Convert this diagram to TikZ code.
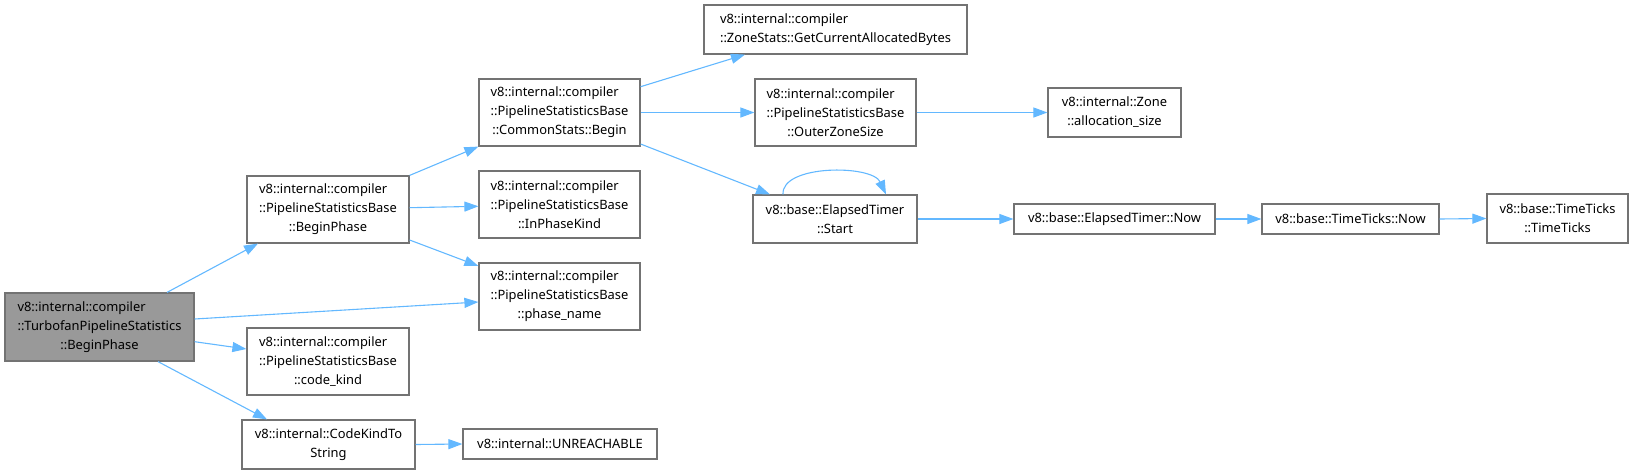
\documentclass[tikz,border=0pt]{standalone}
\usepackage{fontspec}
\setmainfont{Noto Sans}
\usetikzlibrary{arrows.meta}
\definecolor{edgeblue}{HTML}{63B8FF}
\definecolor{boxborder}{HTML}{737373}
\definecolor{mainfill}{HTML}{999999}
\newcommand{\lline}[2]{\makebox[0pt][l]{#1}\phantom{#2}}
\tikzset{
  fnbox/.style={draw=boxborder, line width=1.2pt, fill=white, inner sep=0pt,
    align=center, text=black, font=\fontsize{12.9}{19}\selectfont},
  callarrow/.style={draw=edgeblue, line width=1.1pt,
    -{Triangle[length=14pt,width=10pt,fill=edgeblue]}},
}
\begin{document}
\begin{tikzpicture}[x=1pt,y=-1pt]
\useasboundingbox (0,0) rectangle (1633,474);
% nodes
\node[fnbox, fill=mainfill, minimum width=189pt, minimum height=68pt] (main) at (99.5,327)
  {\lline{v8::internal::compiler}{::TurbofanPipelineStatistics}\\::TurbofanPipelineStatistics\\::BeginPhase};
\node[fnbox, minimum width=162pt, minimum height=67pt] (bp) at (328,209.5)
  {\lline{v8::internal::compiler}{::PipelineStatisticsBase}\\::PipelineStatisticsBase\\::BeginPhase};
\node[fnbox, minimum width=162pt, minimum height=67pt] (ck) at (328,361.5)
  {\lline{v8::internal::compiler}{::PipelineStatisticsBase}\\::PipelineStatisticsBase\\::code\_kind};
\node[fnbox, minimum width=173pt, minimum height=49pt] (cks) at (328.5,444.5)
  {v8::internal::CodeKindTo\\String};
\node[fnbox, minimum width=263pt, minimum height=49pt] (gcab) at (835.5,29.5)
  {\lline{v8::internal::compiler}{::ZoneStats::GetCurrentAllocatedBytes}\\::ZoneStats::GetCurrentAllocatedBytes};
\node[fnbox, minimum width=161pt, minimum height=67pt] (csb) at (559.5,112.5)
  {\lline{v8::internal::compiler}{::PipelineStatisticsBase}\\::PipelineStatisticsBase\\::CommonStats::Begin};
\node[fnbox, minimum width=161pt, minimum height=67pt] (ipk) at (559.5,204.5)
  {\lline{v8::internal::compiler}{::PipelineStatisticsBase}\\::PipelineStatisticsBase\\::InPhaseKind};
\node[fnbox, minimum width=161pt, minimum height=67pt] (pn) at (559.5,296.5)
  {\lline{v8::internal::compiler}{::PipelineStatisticsBase}\\::PipelineStatisticsBase\\::phase\_name};
\node[fnbox, minimum width=194pt, minimum height=30pt] (unr) at (560,444)
  {v8::internal::UNREACHABLE};
\node[fnbox, minimum width=161pt, minimum height=67pt] (ozs) at (835.5,112.5)
  {\lline{v8::internal::compiler}{::PipelineStatisticsBase}\\::PipelineStatisticsBase\\::OuterZoneSize};
\node[fnbox, minimum width=164pt, minimum height=48pt] (st) at (835,219)
  {v8::base::ElapsedTimer\\::Start};
\node[fnbox, minimum width=133pt, minimum height=49pt] (as) at (1114.5,112.5)
  {v8::internal::Zone\\::allocation\_size};
\node[fnbox, minimum width=201pt, minimum height=30pt] (etn) at (1114.5,219)
  {v8::base::ElapsedTimer::Now};
\node[fnbox, minimum width=177pt, minimum height=30pt] (ttn) at (1350.5,219)
  {v8::base::TimeTicks::Now};
\node[fnbox, minimum width=141pt, minimum height=49pt] (tt) at (1557.5,218.5)
  {v8::base::TimeTicks\\::TimeTicks};
% edges
\draw[callarrow] ([xshift=67.5pt]main.north) -- ([xshift=-70pt]bp.south);
\draw[callarrow] ([yshift=8pt]main.east) -- ([yshift=-5.5pt]pn.west);
\draw[callarrow] ([yshift=-14.7pt]main.east) -- ([yshift=12.5pt]ck.west);
\draw[callarrow] ([xshift=58.5pt]main.south) -- ([xshift=-61.5pt]cks.north);
\draw[callarrow] (bp.north east) -- (csb.south west);
\draw[callarrow] ([yshift=1.8pt]bp.east) -- ([yshift=-1.8pt]ipk.west);
\draw[callarrow] ([yshift=-30.5pt]bp.east) -- ([yshift=30.5pt]pn.west);
\draw[callarrow] ([yshift=25.8pt]csb.east) -- ([xshift=-90.5pt]gcab.south);
\draw[callarrow] (csb.east) -- (ozs.west);
\draw[callarrow] ([yshift=-31.5pt]csb.east) -- ([xshift=-65pt]st.north);
\draw[callarrow] ([xshift=-52pt]st.north) .. controls +(-2pt,30pt) and +(-14pt,30pt) .. ([xshift=51pt]st.north);
\draw[callarrow] (ozs.east) -- (as.west);
\draw[callarrow] (st.east) -- (etn.west);
\draw[callarrow] (etn.east) -- (ttn.west);
\draw[callarrow] (ttn.east) -- (tt.west);
\draw[callarrow] (cks.east) -- (unr.west);
\end{tikzpicture}
\end{document}
